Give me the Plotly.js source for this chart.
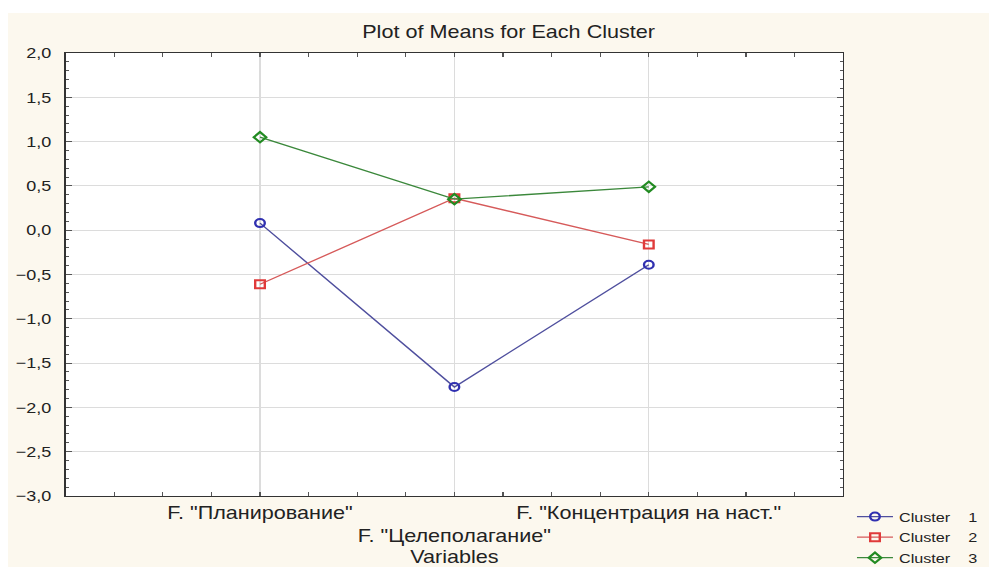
<!DOCTYPE html>
<html>
<head>
<meta charset="utf-8">
<script src="https://cdn.plot.ly/plotly-3.0.1.min.js"></script>
<style>
  html, body { margin: 0; padding: 0; background: #ffffff; overflow: hidden; }
  #chart { position: absolute; left: 8px; top: 13px; width: 818px; height: 554px;
           transform: scaleX(1.2); transform-origin: 0 0; }
</style>
</head>
<body>
<div id="chart"></div>
<script>
// ---- data ----
const categories = ['F. "Планирование"', 'F. "Целеполагание"', 'F. "Концентрация на наст."'];
const seriesNames = ['Cluster\u00a0\u00a0\u00a0\u00a01', 'Cluster\u00a0\u00a0\u00a0\u00a02', 'Cluster\u00a0\u00a0\u00a0\u00a03'];
const cluster1 = [0.08, -1.77, -0.39];
const cluster2 = [-0.61, 0.36, -0.16];
const cluster3 = [1.05, 0.35, 0.49];
const yTickVals = [-3, -2.5, -2, -1.5, -1, -0.5, 0, 0.5, 1, 1.5, 2];

// ---- build ----
const xIdx = categories.map((_, i) => i);
const tickText = categories.map((c, i) => (i % 2 === 1 ? '<br>' + c : c));

const styles = [
  {symbol: 'circle-open', mcolor: '#3030b0', lcolor: '#4f4f9e'},
  {symbol: 'square-open', mcolor: '#e03a3a', lcolor: '#d65a5a'},
  {symbol: 'diamond-open', mcolor: '#228b22', lcolor: '#3b883b'}
];
const values = [cluster1, cluster2, cluster3];

const traces = values.map((v, k) => ({
  type: 'scatter',
  mode: 'lines+markers',
  name: seriesNames[k],
  x: xIdx,
  y: v,
  line: {color: styles[k].lcolor, width: 1.3},
  marker: {symbol: styles[k].symbol, size: 8, color: styles[k].mcolor, line: {width: 2}}
}));

const font = {family: '"Liberation Sans", Arial, sans-serif', color: '#222222'};

const layout = {
  width: 818,
  height: 554,
  paper_bgcolor: '#fcf8ee',
  plot_bgcolor: '#ffffff',
  separators: ', ',
  font: Object.assign({size: 16}, font),
  margin: {l: 48, r: 122, t: 40, b: 71, pad: 0, autoexpand: false},
  title: {
    text: 'Plot of Means for Each Cluster',
    font: Object.assign({size: 18}, font),
    x: 0.51, xref: 'container', xanchor: 'center',
    y: 0.966, yref: 'container', yanchor: 'middle'
  },
  xaxis: {
    type: 'linear',
    range: [-1, 3],
    tickmode: 'array',
    tickvals: xIdx,
    ticktext: tickText,
    tickangle: 0,
    automargin: false,
    tickfont: Object.assign({size: 18}, font),
    ticks: 'inside',
    ticklen: 4,
    tickcolor: '#555555',
    showline: true,
    linecolor: '#333333',
    linewidth: 1,
    mirror: 'ticks',
    showgrid: true,
    gridcolor: '#dcdcdc',
    gridwidth: 1,
    zeroline: false,
    minor: {dtick: 0.25, tick0: 0, ticks: 'inside', ticklen: 4, tickcolor: '#555555', showgrid: false},
    title: {text: 'Variables', font: Object.assign({size: 18}, font), standoff: 10}
  },
  yaxis: {
    range: [-3, 2],
    tickmode: 'array',
    tickvals: yTickVals,
    tickformat: '.1f',
    automargin: false,
    ticklabelstandoff: 8,
    tickfont: Object.assign({size: 15}, font),
    ticks: 'inside',
    ticklen: 5,
    tickcolor: '#555555',
    showline: true,
    linecolor: '#333333',
    linewidth: 1,
    mirror: 'ticks',
    showgrid: true,
    gridcolor: '#dcdcdc',
    gridwidth: 1,
    zeroline: false,
    minor: {dtick: 0.1, tick0: 0, ticks: 'inside', ticklen: 3, tickcolor: '#555555', showgrid: false}
  },
  showlegend: true,
  legend: {
    x: 1.01, xanchor: 'left',
    y: -0.012, yanchor: 'top',
    bgcolor: 'rgba(0,0,0,0)',
    font: Object.assign({size: 13.5}, font),
    tracegroupgap: 0
  }
};

Plotly.newPlot('chart', traces, layout, {displayModeBar: false, staticPlot: true});
</script>
</body>
</html>
